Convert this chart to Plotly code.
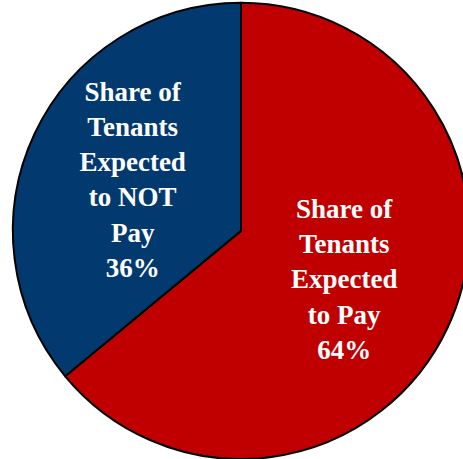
import plotly.graph_objects as go

# Tenant payment expectations (slices run clockwise from 12 o'clock)
labels = ["Share of<br>Tenants<br>Expected<br>to Pay", "Share of<br>Tenants<br>Expected<br>to NOT<br>Pay"]
values = [64, 36]
colors = ["#C00000", "#023A6F"]

fig = go.Figure(
    go.Pie(
        labels=labels,
        values=values,
        sort=False,
        direction="clockwise",
        rotation=0,
        marker=dict(colors=colors, line=dict(color="black", width=2)),
        texttemplate="%{label}<br>%{percent:.0%}",
        textposition="inside",
        insidetextorientation="horizontal",
        textfont=dict(family="Liberation Serif, Times New Roman, serif", size=27, color="white", weight="bold"),
        hoverinfo="skip",
        domain=dict(x=[0, 1], y=[0, 0.994]),
        showlegend=False,
    )
)

fig.update_layout(
    width=482,
    height=459,
    margin=dict(l=0, r=0, t=0, b=0),
    paper_bgcolor="white",
    plot_bgcolor="white",
    uniformtext=dict(minsize=27, mode="show"),
)

fig.write_html(
    "out.html",
    post_script="document.body.style.margin='0';document.body.style.overflow='hidden';",
)
